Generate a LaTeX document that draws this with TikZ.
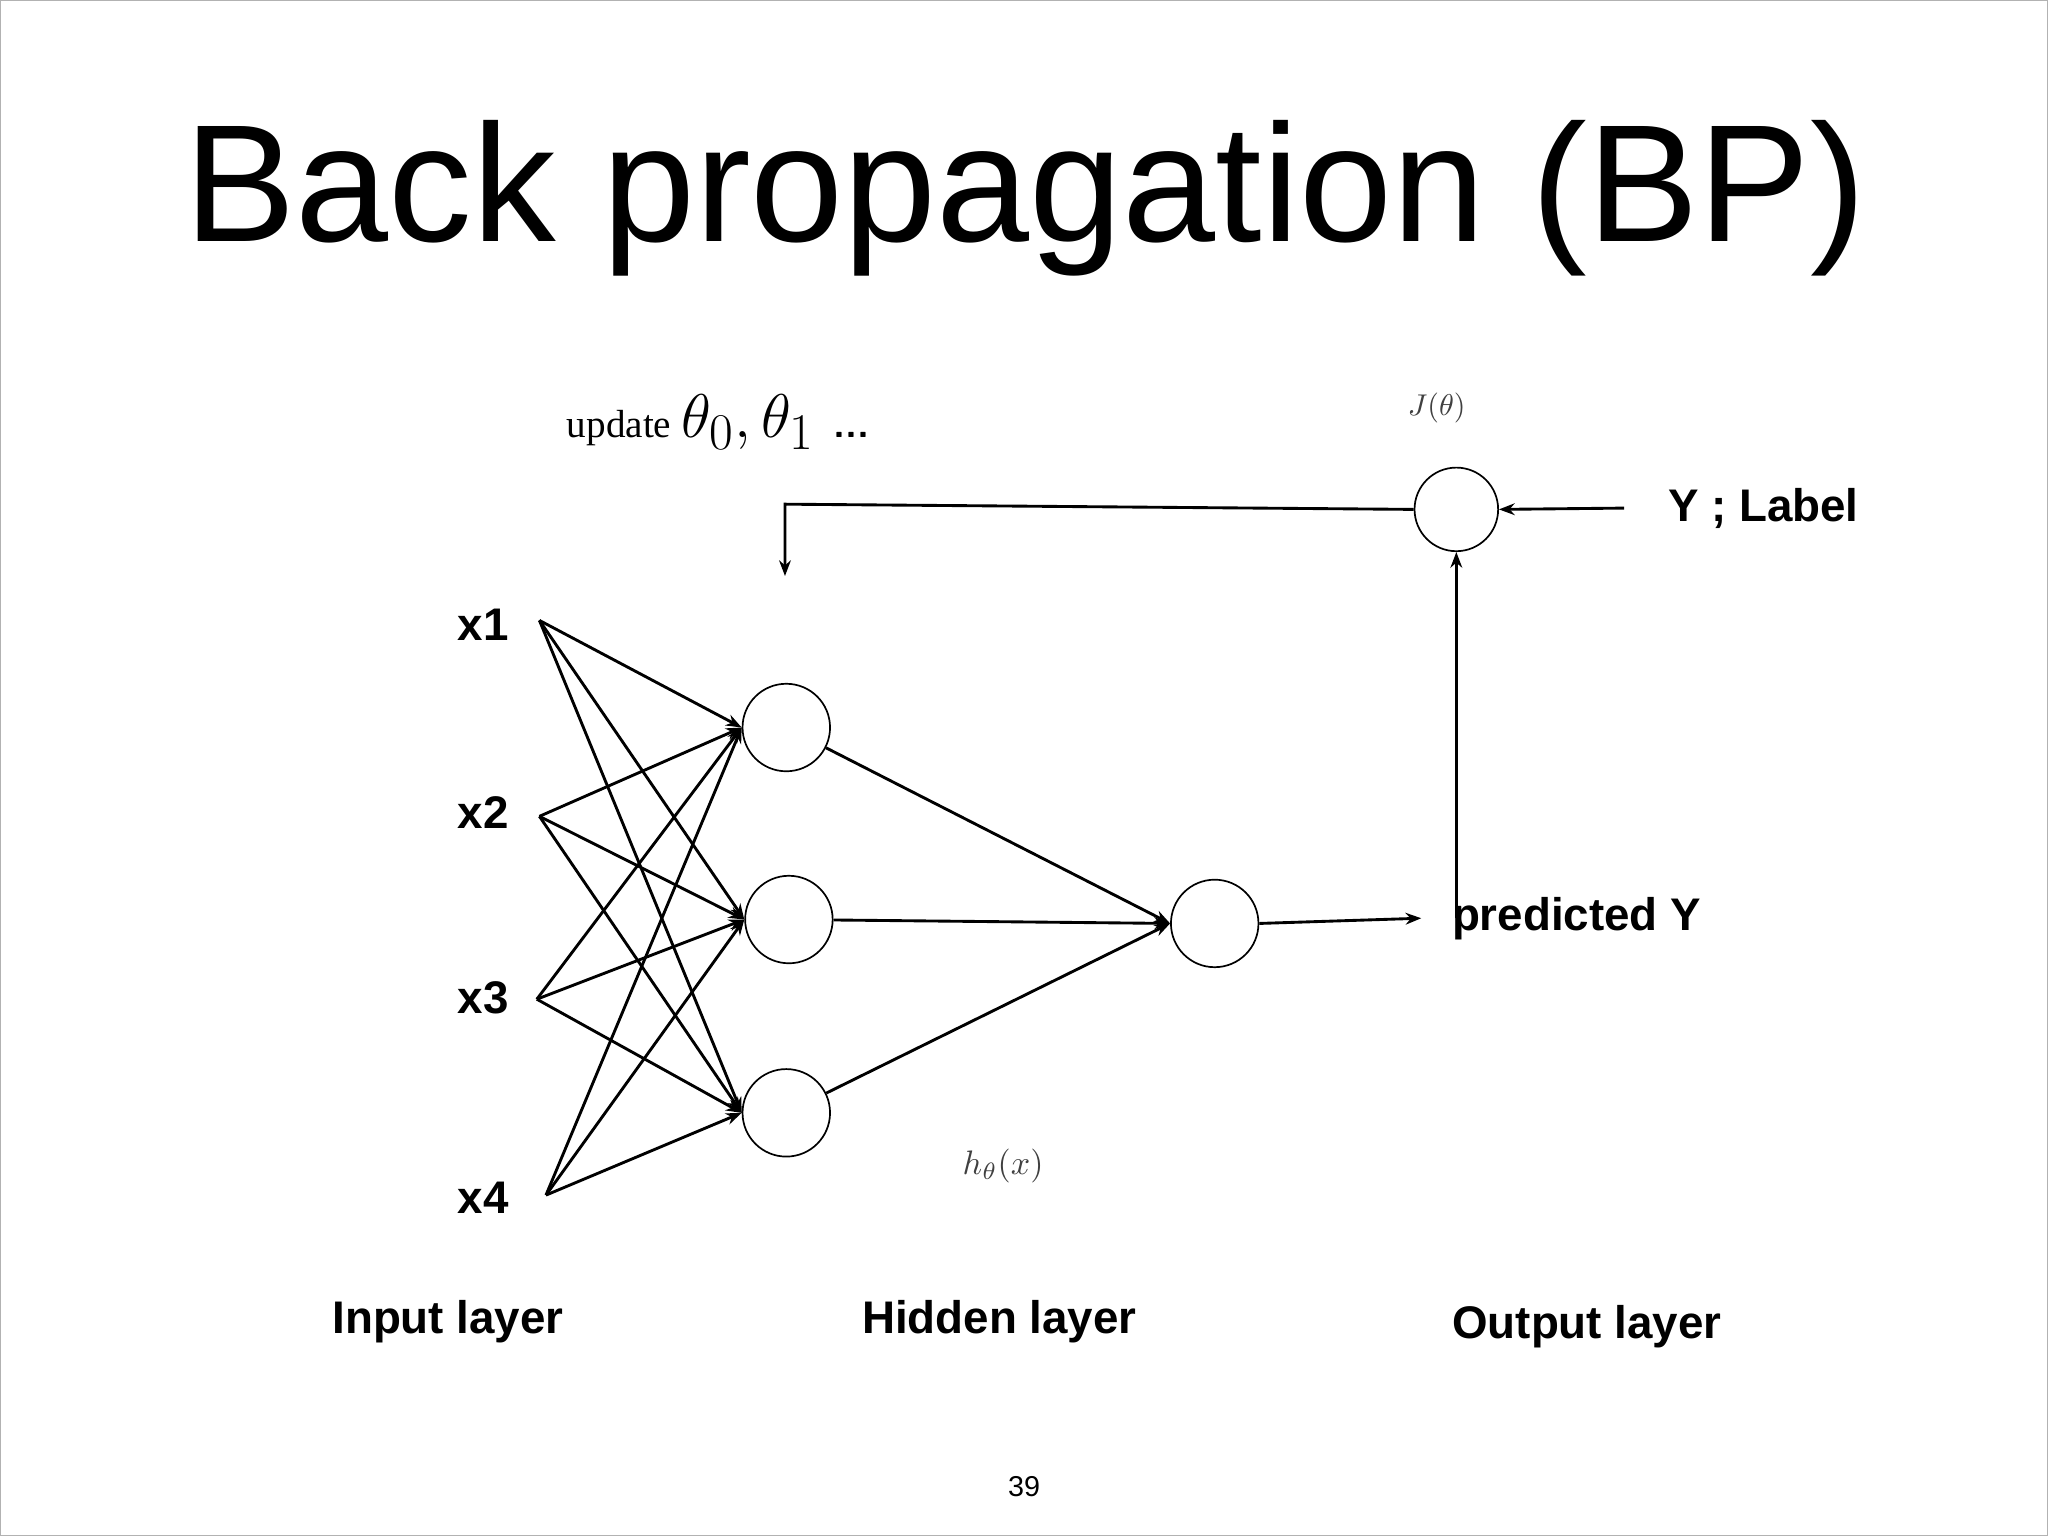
\documentclass[tikz,border=0pt]{standalone}
\usepackage{fontspec}
\setmainfont{Liberation Sans}
\newfontfamily\serif{Liberation Serif}
\usepackage{amsmath}
\usetikzlibrary{arrows.meta}
\begin{document}
\begin{tikzpicture}[x=1pt,y=-1pt,
  neuron/.style={draw,circle,line width=1.3pt,minimum size=67pt,inner sep=0pt},
  conn/.style={line width=2.2pt,-{Stealth[length=12pt,width=9pt]}},
  lbl/.style={font=\fontsize{35}{40}\selectfont\bfseries},
  mth/.style={text=black!75}]
\useasboundingbox (0,0) rectangle (1568,1176);
\draw[gray!60,line width=1pt] (0.5,0.5) rectangle (1567.5,1175.5);
\node[font=\fontsize{128}{140}\selectfont] (title) at (785,152) {Back propagation (BP)};
\node[neuron] (h1) at (602,557) {};
\node[neuron] (h2) at (604,704) {};
\node[neuron] (h3) at (602,852) {};
\node[neuron] (o) at (930,707) {};
\node[neuron,minimum size=64pt] (j) at (1115,390) {};
\coordinate (i1) at (413,475);
\coordinate (i2) at (413,625);
\coordinate (i3) at (411,765);
\coordinate (i4) at (418,915);
\node[lbl] (x1) at (370,478) {x1};
\node[lbl] (x2) at (370,622) {x2};
\node[lbl] (x3) at (370,764) {x3};
\node[lbl] (x4) at (370,917) {x4};
\foreach \i in {i1,i2,i3,i4}{
  \foreach \h in {h1,h2,h3}{
    \draw[conn] (\i) -- (\h.west);
  }
}
\draw[conn] (h1) -- (o.west);
\draw[conn] (h2) -- (o.west);
\draw[conn] (h3) -- (o.west);
\node[lbl] (py) at (1207,703) {predicted Y};
\draw[conn] (o.east) -- ([xshift=-20pt]py.west);
\draw[conn] ([yshift=-20pt]py.north -| j) -- (j.south);
\node[lbl] (yl) at (1350,389) {Y ; Label};
\draw[conn] ([xshift=-30pt]yl.west) -- (j.east);
\coordinate (fb) at (601,386);
\draw[conn] (j.west) -- (fb) -- ++(0,55);
\node[font=\fontsize{30}{36}\selectfont\serif] (up) at (550,323) {update \scalebox{1.9}{$\theta_0,\theta_1$}\ \ \textbf{\sffamily ...}};
\node[mth] (jt) at (1100,312) {\scalebox{2.3}{$J(\theta)$}};
\node[mth] (hx) at (768,893) {\scalebox{2.6}{$h_\theta(x)$}};
\node[lbl] (il) at (343,1012) {Input layer};
\node[lbl] (hl) at (765,1012) {Hidden layer};
\node[lbl] (ol) at (1215,1016) {Output layer};
\node[font=\fontsize{22}{26}\selectfont] (pg) at (784,1138) {39};
\end{tikzpicture}
\end{document}
